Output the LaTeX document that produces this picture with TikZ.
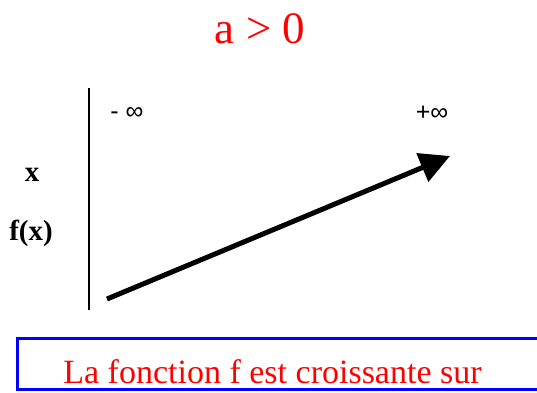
\documentclass[tikz,border=0pt]{standalone}
\usepackage{fontspec}
\setmainfont{Liberation Serif}
\newfontfamily\symfont{Liberation Sans}
\usetikzlibrary{arrows.meta}
\begin{document}
\begin{tikzpicture}[x=1pt,y=-1pt,
  lbl/.style={inner sep=0pt,anchor=center},
  bl/.style={inner sep=0pt,anchor=base}]
\useasboundingbox (0,0) rectangle (537,392);
\node[bl,text=red,font=\fontsize{45}{50}\selectfont] (title) at (260,43) {a > 0};
\coordinate (vt) at (89,88);
\coordinate (vb) at (89,310);
\draw[line width=2pt] (vt) -- (vb);
\node[lbl,font=\symfont\fontsize{25}{28}\selectfont] (minf) at (127,113) {- ∞};
\node[lbl,font=\symfont\fontsize{25}{28}\selectfont] (pinf) at (432,113) {+∞};
\node[lbl,font=\bfseries\fontsize{29}{32}\selectfont] (x) at (32,175) {x};
\node[bl,font=\bfseries\fontsize{29}{32}\selectfont] (fx) at (31,240) {f(x)};
\coordinate (a1) at (107,299);
\coordinate (a2) at (450,156);
\draw[line width=5pt,-{Triangle[length=30pt,width=30pt]}] (a1) -- (a2);
\draw[blue,line width=3pt] (17.5,338.5) rectangle (560,389.5);
\node[bl,text=red,font=\fontsize{34}{38}\selectfont] (txt) at (272.5,383) {La fonction f est croissante sur};
\end{tikzpicture}
\end{document}
